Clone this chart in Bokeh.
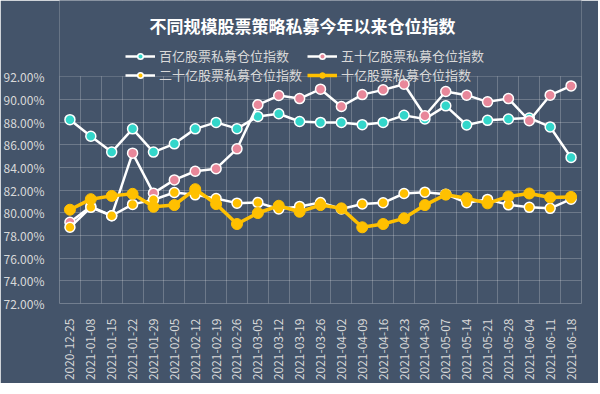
import math
from bokeh.plotting import figure
from bokeh.models import (Legend, LegendItem, Label, FixedTicker, Range1d,
                          PrintfTickFormatter, BoxAnnotation)
from bokeh.embed import file_html
from bokeh.resources import INLINE

dates = ["2020-12-25", "2021-01-08", "2021-01-15", "2021-01-22", "2021-01-29",
         "2021-02-05", "2021-02-12", "2021-02-19", "2021-02-26", "2021-03-05",
         "2021-03-12", "2021-03-19", "2021-03-26", "2021-04-02", "2021-04-09",
         "2021-04-16", "2021-04-23", "2021-04-30", "2021-05-07", "2021-05-14",
         "2021-05-21", "2021-05-28", "2021-06-04", "2021-06-11", "2021-06-18"]

s100 = [88.21, 86.75, 85.35, 87.40, 85.35, 86.08, 87.40, 87.97, 87.42, 88.50,
        88.73, 88.05, 87.97, 87.97, 87.77, 87.97, 88.59, 88.27, 89.43, 87.74,
        88.15, 88.27, 88.36, 87.57, 84.88]
s50 = [79.16, 80.55, 79.74, 85.26, 81.73, 82.90, 83.66, 83.89, 85.64, 89.52,
       90.34, 90.07, 90.90, 89.37, 90.42, 90.84, 91.33, 88.56, 90.69, 90.37,
       89.78, 90.07, 88.12, 90.37, 91.19]
s20 = [78.72, 80.48, 79.74, 80.74, 81.15, 81.79, 81.58, 81.26, 80.85, 80.90,
       80.33, 80.56, 80.91, 80.33, 80.77, 80.88, 81.70, 81.82, 81.64, 80.88,
       81.18, 80.70, 80.48, 80.39, 81.20]
s10 = [80.27, 81.20, 81.49, 81.67, 80.53, 80.68, 82.08, 80.77, 79.01, 79.98,
       80.62, 80.09, 80.68, 80.39, 78.72, 79.01, 79.51, 80.68, 81.60, 81.29,
       80.83, 81.44, 81.70, 81.35, 81.40]

names = ["百亿股票私募仓位指数", "五十亿股票私募仓位指数",
         "二十亿股票私募仓位指数", "十亿股票私募仓位指数"]
title_text = "不同规模股票策略私募今年以来仓位指数"
y_ticks = [72, 74, 76, 78, 80, 82, 84, 86, 88, 90, 92]

BG = "#44546A"
CYAN = "#33d6ca"
PINK = "#e8879a"
GOLD = "#ffc000"
TXT = "#d9d9d9"
FONT = "Noto Sans CJK SC"

n = len(dates)
xs = [i + 0.5 for i in range(n)]

# frame spans the full height above the x axis so that title and legends
# (drawn in the center panel) are not clipped; the value scale is kept so that
# 72%..92% occupies the lower 228px of the frame.
W, H, BOTTOM = 598, 383, 78
frame_h = H - BOTTOM
px_per_unit = 228.3 / 20.0
y_top = y_ticks[0] + frame_h / px_per_unit

p = figure(width=W, height=H, output_backend="svg", toolbar_location=None,
           x_range=Range1d(0, n), y_range=Range1d(y_ticks[0], y_top),
           min_border_left=57, min_border_right=17, min_border_top=0,
           min_border_bottom=BOTTOM,
           background_fill_color=BG, border_fill_color=BG,
           outline_line_color=None)

# grids
p.xgrid.ticker = FixedTicker(ticks=list(range(n + 1)))
p.ygrid.ticker = FixedTicker(ticks=y_ticks)
for g in (p.xgrid, p.ygrid):
    g.grid_line_color = "#ffffff"
    g.grid_line_alpha = 0.22
    g.grid_line_width = 1

# hide the vertical grid above the top value line
cover = BoxAnnotation(bottom=y_ticks[-1] + 0.05, fill_color=BG, fill_alpha=1,
                      line_color=None, level="underlay")
p.add_layout(cover)

# axes
p.xaxis.ticker = FixedTicker(ticks=xs)
p.xaxis.major_label_overrides = {x: d for x, d in zip(xs, dates)}
p.xaxis.major_label_orientation = math.pi / 2
p.yaxis.ticker = FixedTicker(ticks=y_ticks)
p.yaxis.formatter = PrintfTickFormatter(format="%.2f%%")
for ax in (p.xaxis, p.yaxis):
    ax.axis_line_color = None
    ax.major_tick_line_color = None
    ax.minor_tick_line_color = None
    ax.major_label_text_color = TXT
    ax.major_label_text_font = FONT
    ax.major_label_text_font_size = "12px"
    ax.major_label_standoff = 9

# series
l1 = p.line(xs, s100, line_color="white", line_width=2.5)
c1 = p.scatter(xs, s100, marker="circle", size=10, fill_color=CYAN,
               line_color="white", line_width=1.5)
l2 = p.line(xs, s50, line_color="white", line_width=2.5)
c2 = p.scatter(xs, s50, marker="circle", size=10, fill_color=PINK,
               line_color="white", line_width=1.5)
l3 = p.line(xs, s20, line_color="white", line_width=2.5)
c3 = p.scatter(xs, s20, marker="circle", size=10, fill_color=GOLD,
               line_color="white", line_width=1.5)
l4 = p.line(xs, s10, line_color=GOLD, line_width=3.5)
c4 = p.scatter(xs, s10, marker="circle", size=11, fill_color=GOLD,
               line_color=GOLD, line_width=1)


def make_legend(items, loc):
    return Legend(items=items, location=loc, orientation="horizontal",
                  glyph_width=30, glyph_height=14, label_height=14,
                  label_width=145, label_standoff=4, spacing=3,
                  padding=0, margin=0,
                  label_text_font=FONT, label_text_font_size="13px",
                  label_text_color=TXT, background_fill_alpha=0,
                  border_line_alpha=0)


leg1 = make_legend([LegendItem(label=names[0], renderers=[l1, c1]),
                    LegendItem(label=names[1], renderers=[l2, c2])], (66, 238))
leg2 = make_legend([LegendItem(label=names[2], renderers=[l3, c3]),
                    LegendItem(label=names[3], renderers=[l4, c4])], (66, 219))
p.add_layout(leg1, "center")
p.add_layout(leg2, "center")

title = Label(x=243, y=278, x_units="screen", y_units="screen", text=title_text,
              text_font=FONT, text_font_size="17px", text_font_style="bold",
              text_color="white", text_align="center", text_baseline="middle")
p.add_layout(title, "center")

open("out.html", "w").write(file_html(p, INLINE))
